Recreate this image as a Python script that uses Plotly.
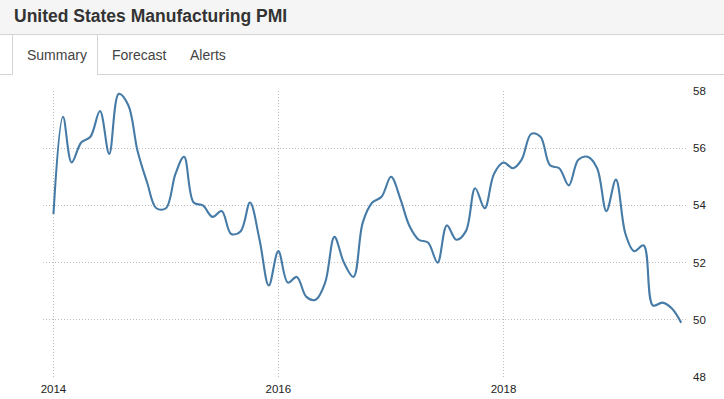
import pandas as pd
import plotly.graph_objects as go

# Monthly PMI values, Jan 2014 .. Aug 2019
pmi_2014 = [53.7, 57.1, 55.5, 56.2, 56.4, 57.3, 55.8, 57.9, 57.5, 55.9, 54.8, 53.9]
pmi_2015 = [53.9, 55.1, 55.7, 54.1, 54.0, 53.6, 53.8, 53.0, 53.1, 54.1, 52.8, 51.2]
pmi_2016 = [52.4, 51.3, 51.5, 50.8, 50.7, 51.3, 52.9, 52.0, 51.5, 53.4, 54.1, 54.3]
pmi_2017 = [55.0, 54.2, 53.3, 52.8, 52.7, 52.0, 53.3, 52.8, 53.1, 54.6, 53.9, 55.1]
pmi_2018 = [55.5, 55.3, 55.6, 56.5, 56.4, 55.4, 55.3, 54.7, 55.6, 55.7, 55.3, 53.8]
pmi_2019 = [54.9, 53.0, 52.4, 52.6, 50.5, 50.6, 50.4, 49.9]

values = pmi_2014 + pmi_2015 + pmi_2016 + pmi_2017 + pmi_2018 + pmi_2019
dates = pd.date_range("2014-01-01", periods=len(values), freq="MS")

x_tick_vals = ["2014-01-01", "2016-01-01", "2018-01-01"]
x_tick_text = ["2014", "2016", "2018"]
y_tick_vals = [48, 50, 52, 54, 56, 58]

title_text = "United States Manufacturing PMI"
tab_labels = ["Summary", "Forecast", "Alerts"]

W, H = 724, 399
L, R, T, B = 43, 36, 91, 22
PW, PH = W - L - R, H - T - B


def X(px):
    return (px - L) / PW


def Y(py):
    return (H - B - py) / PH


fig = go.Figure()
fig.add_trace(go.Scatter(
    x=dates, y=values, mode="lines",
    line=dict(color="#457ba6", width=2.1, shape="spline", smoothing=1.0),
    hoverinfo="x+y", showlegend=False,
))

grid = dict(showgrid=True, gridcolor="#bdbdbd", griddash="1px,2px", gridwidth=1,
            zeroline=False, showline=False, ticks="", automargin=False)

fig.update_layout(
    width=W, height=H,
    margin=dict(l=L, r=R, t=T, b=B, pad=0, autoexpand=False),
    paper_bgcolor="white", plot_bgcolor="white",
    font=dict(family="Liberation Sans, Arial, sans-serif", color="#222", size=11.5),
    xaxis=dict(range=["2013-11-28", "2019-08-23"], tickvals=x_tick_vals,
               ticktext=x_tick_text, ticklabelstandoff=3, **grid),
    yaxis=dict(range=[48, 58], tickvals=y_tick_vals, side="right",
               ticklabelstandoff=4, **grid),
    showlegend=False,
)

line_col = "#d4d4d4"
shapes = [
    dict(type="rect", xref="paper", yref="paper", x0=X(0), x1=X(W), y0=Y(34), y1=Y(0),
         fillcolor="#f5f5f5", line=dict(width=0), layer="below"),
    dict(type="line", xref="paper", yref="paper", x0=X(0), x1=X(W), y0=Y(34.5), y1=Y(34.5),
         line=dict(color=line_col, width=1)),
    dict(type="line", xref="paper", yref="paper", x0=X(0), x1=X(12.5), y0=Y(74.5), y1=Y(74.5),
         line=dict(color=line_col, width=1)),
    dict(type="line", xref="paper", yref="paper", x0=X(97.5), x1=X(W), y0=Y(74.5), y1=Y(74.5),
         line=dict(color=line_col, width=1)),
    dict(type="line", xref="paper", yref="paper", x0=X(12.5), x1=X(12.5), y0=Y(35), y1=Y(75),
         line=dict(color=line_col, width=1)),
    dict(type="line", xref="paper", yref="paper", x0=X(97.5), x1=X(97.5), y0=Y(35), y1=Y(75),
         line=dict(color=line_col, width=1)),
]
fig.update_layout(shapes=shapes)

annotations = [
    dict(text="<b>" + title_text + "</b>", xref="paper", yref="paper",
         x=X(12), y=Y(16), xanchor="left", yanchor="middle", showarrow=False,
         font=dict(family="Liberation Sans, Arial, sans-serif", size=17.5, color="#333")),
]
for lbl, px in zip(tab_labels, [25, 110, 188]):
    annotations.append(dict(text=lbl, xref="paper", yref="paper",
                            x=X(px), y=Y(55), xanchor="left", yanchor="middle",
                            showarrow=False,
                            font=dict(family="Liberation Sans, Arial, sans-serif",
                                      size=14, color="#444")))
fig.update_layout(annotations=annotations)

fig.write_html("out.html", config={"displayModeBar": False},
               post_script="document.body.style.margin='0';document.body.style.overflow='hidden';")
